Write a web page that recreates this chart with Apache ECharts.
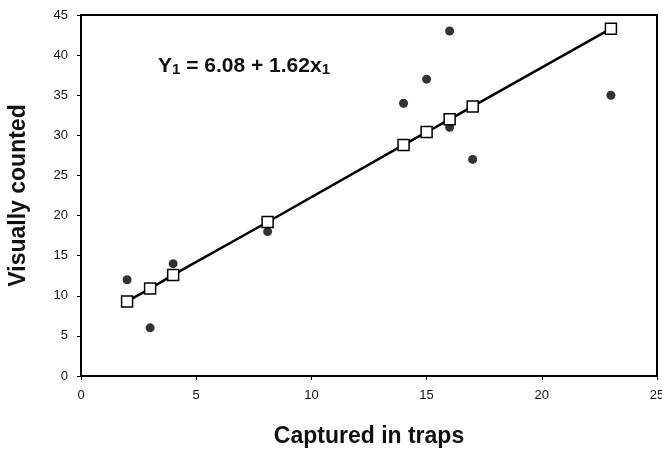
<!DOCTYPE html>
<html>
<head>
<meta charset="utf-8">
<script src="https://cdn.jsdelivr.net/npm/echarts@6/dist/echarts.min.js"></script>
<style>html,body{margin:0;padding:0;background:#fff}#c{width:662px;height:449px}</style>
</head>
<body>
<div id="c"></div>
<script>
// Observed points
const obsX = [2, 3, 4, 8.1, 14, 15, 16, 16, 17, 23];
const obsY = [12, 6, 14, 18, 34, 37, 43, 31, 27, 35];
// Fitted line points (squares)
const fitX = [2, 3, 4, 8.1, 14, 15, 16, 17, 23];
const fitY = [9.3, 10.9, 12.6, 19.2, 28.8, 30.4, 32.0, 33.6, 43.3];
const xTicks = [0, 5, 10, 15, 20, 25];
const yTicks = [0, 5, 10, 15, 20, 25, 30, 35, 40, 45];
const xTitle = 'Captured in traps';
const yTitle = 'Visually counted';

const chart = echarts.init(document.getElementById('c'));
const font = 'Liberation Sans, Arial, sans-serif';
chart.setOption({
  animation: false,
  backgroundColor: '#fff',
  grid: { left: 81, right: 5, top: 15, bottom: 73, show: true, borderColor: '#000', borderWidth: 2, backgroundColor: 'transparent', outerBoundsMode: 'none', containLabel: false },
  xAxis: {
    type: 'value', min: xTicks[0], max: xTicks[xTicks.length - 1], interval: 5,
    name: xTitle, nameLocation: 'middle', nameGap: 49,
    nameTextStyle: { fontFamily: font, fontWeight: 'bold', fontSize: 23, color: '#111' },
    axisLine: { show: true, lineStyle: { color: '#000', width: 2 } },
    axisTick: { show: true, length: 4, lineStyle: { color: '#000' } },
    axisLabel: { fontFamily: font, fontSize: 13, color: '#111', margin: 13 },
    splitLine: { show: false }
  },
  yAxis: {
    type: 'value', min: yTicks[0], max: yTicks[yTicks.length - 1], interval: 5,
    name: yTitle, nameLocation: 'middle', nameGap: 51, nameRotate: 90,
    nameTextStyle: { fontFamily: font, fontWeight: 'bold', fontSize: 23, color: '#111' },
    axisLine: { show: true, lineStyle: { color: '#000', width: 2 } },
    axisTick: { show: true, length: 4, lineStyle: { color: '#000' } },
    axisLabel: { fontFamily: font, fontSize: 13, color: '#111', margin: 13 },
    splitLine: { show: false }
  },
  graphic: [{
    type: 'text', left: 158, top: 56,
    style: {
      rich: {
        b: { fontFamily: font, fontWeight: 'bold', fontSize: 21, fill: '#111' },
        s: { fontFamily: font, fontWeight: 'bold', fontSize: 15, fill: '#111', padding: [6, 0, 0, 0] }
      },
      text: '{b|Y}{s|1}{b| = 6.08 + 1.62x}{s|1}'
    }
  }],
  series: [
    {
      type: 'line', data: fitX.map((x, i) => [x, fitY[i]]),
      lineStyle: { color: '#000', width: 2.5 },
      symbol: 'rect', symbolSize: 11,
      itemStyle: { color: '#fff', borderColor: '#000', borderWidth: 1.5 },
      z: 3
    },
    {
      type: 'scatter', data: obsX.map((x, i) => [x, obsY[i]]),
      symbol: 'circle', symbolSize: 9,
      itemStyle: { color: '#000' },
      z: 2
    }
  ]
});
</script>
</body>
</html>
